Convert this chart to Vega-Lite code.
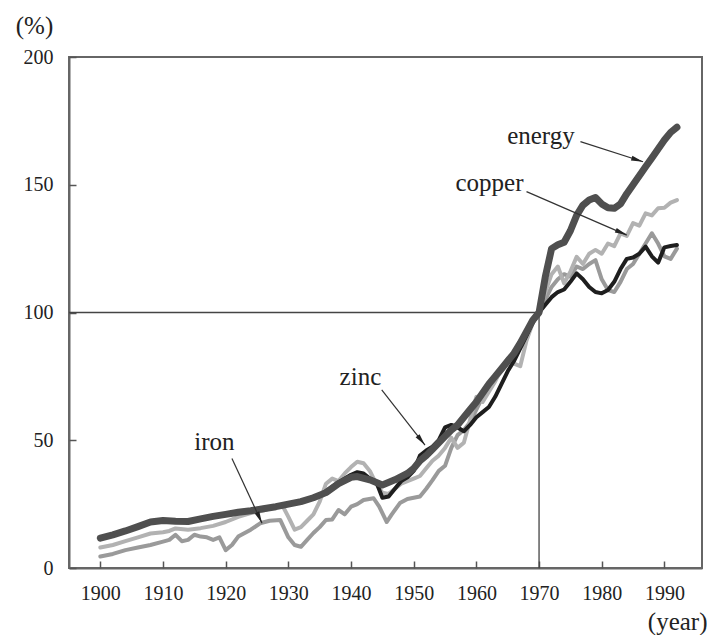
{
  "$schema": "https://vega.github.io/schema/vega-lite/v6.json",
  "width": 633,
  "height": 511,
  "autosize": {"type": "none"},
  "padding": {"left": 69, "top": 57, "right": 5, "bottom": 67},
  "background": "white",
  "config": {
    "view": {"stroke": "#666666", "strokeWidth": 2},
    "font": "Liberation Serif",
    "axis": {
      "grid": false,
      "domainColor": "#666666",
      "domainWidth": 2,
      "tickColor": "#555555",
      "tickWidth": 1.5,
      "tickSize": 7,
      "labelFont": "Liberation Serif",
      "labelFontSize": 20,
      "labelColor": "#222222",
      "titleFont": "Liberation Serif",
      "titleFontSize": 25,
      "titleFontWeight": "normal",
      "titleColor": "#222222"
    }
  },
  "resolve": {"axis": {"x": "independent", "y": "independent"}},
  "datasets": {
    "series": [
      {"s":"energy","year":1900,"value":11.7},{"s":"energy","year":1902,"value":13},{"s":"energy","year":1904,"value":14.5},{"s":"energy","year":1906,"value":16.2},{"s":"energy","year":1908,"value":18},{"s":"energy","year":1910,"value":18.6},{"s":"energy","year":1912,"value":18.3},{"s":"energy","year":1914,"value":18.2},{"s":"energy","year":1916,"value":19.2},{"s":"energy","year":1918,"value":20.2},{"s":"energy","year":1920,"value":21},{"s":"energy","year":1922,"value":21.8},{"s":"energy","year":1924,"value":22.4},{"s":"energy","year":1926,"value":23.2},{"s":"energy","year":1928,"value":24},{"s":"energy","year":1930,"value":25},{"s":"energy","year":1932,"value":26},{"s":"energy","year":1934,"value":27.5},{"s":"energy","year":1936,"value":29.5},{"s":"energy","year":1938,"value":33},{"s":"energy","year":1940,"value":35.5},{"s":"energy","year":1941,"value":35.8},{"s":"energy","year":1943,"value":34.5},{"s":"energy","year":1945,"value":32.5},{"s":"energy","year":1947,"value":34.5},{"s":"energy","year":1949,"value":37},{"s":"energy","year":1950,"value":39},{"s":"energy","year":1951,"value":42},{"s":"energy","year":1952,"value":44},{"s":"energy","year":1953,"value":46.5},{"s":"energy","year":1954,"value":49},{"s":"energy","year":1955,"value":51.5},{"s":"energy","year":1956,"value":54},{"s":"energy","year":1957,"value":56},{"s":"energy","year":1958,"value":59},{"s":"energy","year":1959,"value":62},{"s":"energy","year":1960,"value":65},{"s":"energy","year":1961,"value":68.5},{"s":"energy","year":1962,"value":72},{"s":"energy","year":1963,"value":75},{"s":"energy","year":1964,"value":78},{"s":"energy","year":1965,"value":81},{"s":"energy","year":1966,"value":84},{"s":"energy","year":1967,"value":88},{"s":"energy","year":1968,"value":92.5},{"s":"energy","year":1969,"value":97},{"s":"energy","year":1970,"value":100},{"s":"energy","year":1971,"value":114},{"s":"energy","year":1972,"value":125},{"s":"energy","year":1973,"value":126.5},{"s":"energy","year":1974,"value":127.5},{"s":"energy","year":1975,"value":132},{"s":"energy","year":1976,"value":138},{"s":"energy","year":1977,"value":142},{"s":"energy","year":1978,"value":144},{"s":"energy","year":1979,"value":145},{"s":"energy","year":1980,"value":142.5},{"s":"energy","year":1981,"value":141},{"s":"energy","year":1982,"value":140.8},{"s":"energy","year":1983,"value":142.5},{"s":"energy","year":1984,"value":146.5},{"s":"energy","year":1985,"value":150},{"s":"energy","year":1986,"value":153.5},{"s":"energy","year":1987,"value":157},{"s":"energy","year":1988,"value":160.5},{"s":"energy","year":1989,"value":164},{"s":"energy","year":1990,"value":167.5},{"s":"energy","year":1991,"value":170.5},{"s":"energy","year":1992,"value":172.5},

      {"s":"zinc","year":1900,"value":11.5},{"s":"zinc","year":1904,"value":14.3},{"s":"zinc","year":1908,"value":17.8},{"s":"zinc","year":1910,"value":18.4},{"s":"zinc","year":1914,"value":18},{"s":"zinc","year":1918,"value":20},{"s":"zinc","year":1922,"value":21.6},{"s":"zinc","year":1926,"value":23},{"s":"zinc","year":1930,"value":24.8},{"s":"zinc","year":1934,"value":27.3},{"s":"zinc","year":1936,"value":30},{"s":"zinc","year":1938,"value":33.5},{"s":"zinc","year":1940,"value":36.5},{"s":"zinc","year":1941,"value":37.5},{"s":"zinc","year":1942,"value":37},{"s":"zinc","year":1943,"value":35},{"s":"zinc","year":1944,"value":33.8},{"s":"zinc","year":1945,"value":27.5},{"s":"zinc","year":1946,"value":28},{"s":"zinc","year":1947,"value":31},{"s":"zinc","year":1948,"value":34},{"s":"zinc","year":1949,"value":35.5},{"s":"zinc","year":1950,"value":38},{"s":"zinc","year":1951,"value":44},{"s":"zinc","year":1952,"value":46},{"s":"zinc","year":1953,"value":47.5},{"s":"zinc","year":1954,"value":50},{"s":"zinc","year":1955,"value":55},{"s":"zinc","year":1956,"value":56},{"s":"zinc","year":1957,"value":55},{"s":"zinc","year":1958,"value":53.5},{"s":"zinc","year":1959,"value":56},{"s":"zinc","year":1960,"value":59},{"s":"zinc","year":1961,"value":61},{"s":"zinc","year":1962,"value":63},{"s":"zinc","year":1963,"value":67},{"s":"zinc","year":1964,"value":72},{"s":"zinc","year":1965,"value":77},{"s":"zinc","year":1966,"value":81},{"s":"zinc","year":1967,"value":86},{"s":"zinc","year":1968,"value":91},{"s":"zinc","year":1969,"value":96},{"s":"zinc","year":1970,"value":100},{"s":"zinc","year":1971,"value":103},{"s":"zinc","year":1972,"value":106},{"s":"zinc","year":1973,"value":108},{"s":"zinc","year":1974,"value":109},{"s":"zinc","year":1975,"value":112},{"s":"zinc","year":1976,"value":115.3},{"s":"zinc","year":1977,"value":113},{"s":"zinc","year":1978,"value":110},{"s":"zinc","year":1979,"value":108},{"s":"zinc","year":1980,"value":107.5},{"s":"zinc","year":1981,"value":108.8},{"s":"zinc","year":1982,"value":112},{"s":"zinc","year":1983,"value":117},{"s":"zinc","year":1984,"value":121},{"s":"zinc","year":1985,"value":121.5},{"s":"zinc","year":1986,"value":123},{"s":"zinc","year":1987,"value":125.8},{"s":"zinc","year":1988,"value":122},{"s":"zinc","year":1989,"value":119.5},{"s":"zinc","year":1990,"value":125.5},{"s":"zinc","year":1991,"value":126},{"s":"zinc","year":1992,"value":126.4},

      {"s":"copper","year":1900,"value":8},{"s":"copper","year":1902,"value":9},{"s":"copper","year":1904,"value":10.5},{"s":"copper","year":1906,"value":12},{"s":"copper","year":1908,"value":13.5},{"s":"copper","year":1910,"value":14},{"s":"copper","year":1911,"value":14.5},{"s":"copper","year":1912,"value":15.5},{"s":"copper","year":1914,"value":15},{"s":"copper","year":1916,"value":15.6},{"s":"copper","year":1918,"value":16.5},{"s":"copper","year":1920,"value":18},{"s":"copper","year":1922,"value":20},{"s":"copper","year":1924,"value":21.5},{"s":"copper","year":1926,"value":22.5},{"s":"copper","year":1928,"value":24},{"s":"copper","year":1929,"value":24.7},{"s":"copper","year":1930,"value":20},{"s":"copper","year":1931,"value":15},{"s":"copper","year":1932,"value":16},{"s":"copper","year":1933,"value":18.5},{"s":"copper","year":1934,"value":21},{"s":"copper","year":1935,"value":26},{"s":"copper","year":1936,"value":33},{"s":"copper","year":1937,"value":35},{"s":"copper","year":1938,"value":34},{"s":"copper","year":1939,"value":37},{"s":"copper","year":1940,"value":39.5},{"s":"copper","year":1941,"value":41.6},{"s":"copper","year":1942,"value":41},{"s":"copper","year":1943,"value":38},{"s":"copper","year":1944,"value":33},{"s":"copper","year":1945,"value":29.5},{"s":"copper","year":1946,"value":29},{"s":"copper","year":1947,"value":31},{"s":"copper","year":1948,"value":33},{"s":"copper","year":1949,"value":34},{"s":"copper","year":1950,"value":35},{"s":"copper","year":1951,"value":36},{"s":"copper","year":1952,"value":39},{"s":"copper","year":1953,"value":42},{"s":"copper","year":1954,"value":44},{"s":"copper","year":1955,"value":47},{"s":"copper","year":1956,"value":51},{"s":"copper","year":1957,"value":47},{"s":"copper","year":1958,"value":49},{"s":"copper","year":1959,"value":58},{"s":"copper","year":1960,"value":67},{"s":"copper","year":1961,"value":65},{"s":"copper","year":1962,"value":69},{"s":"copper","year":1963,"value":73},{"s":"copper","year":1964,"value":78},{"s":"copper","year":1965,"value":82},{"s":"copper","year":1966,"value":80},{"s":"copper","year":1967,"value":79},{"s":"copper","year":1968,"value":89},{"s":"copper","year":1969,"value":96},{"s":"copper","year":1970,"value":100},{"s":"copper","year":1971,"value":108},{"s":"copper","year":1972,"value":115},{"s":"copper","year":1973,"value":118},{"s":"copper","year":1974,"value":111.4},{"s":"copper","year":1975,"value":116},{"s":"copper","year":1976,"value":121.8},{"s":"copper","year":1977,"value":119},{"s":"copper","year":1978,"value":123},{"s":"copper","year":1979,"value":124.5},{"s":"copper","year":1980,"value":123},{"s":"copper","year":1981,"value":127},{"s":"copper","year":1982,"value":126},{"s":"copper","year":1983,"value":131},{"s":"copper","year":1984,"value":130},{"s":"copper","year":1985,"value":135},{"s":"copper","year":1986,"value":134},{"s":"copper","year":1987,"value":138.8},{"s":"copper","year":1988,"value":138},{"s":"copper","year":1989,"value":140.8},{"s":"copper","year":1990,"value":141},{"s":"copper","year":1991,"value":143},{"s":"copper","year":1992,"value":144},

      {"s":"iron","year":1900,"value":4.5},{"s":"iron","year":1902,"value":5.5},{"s":"iron","year":1904,"value":7},{"s":"iron","year":1906,"value":8},{"s":"iron","year":1908,"value":9},{"s":"iron","year":1910,"value":10.3},{"s":"iron","year":1911,"value":11},{"s":"iron","year":1912,"value":13},{"s":"iron","year":1913,"value":10.5},{"s":"iron","year":1914,"value":11},{"s":"iron","year":1915,"value":13},{"s":"iron","year":1916,"value":12.3},{"s":"iron","year":1917,"value":12},{"s":"iron","year":1918,"value":11},{"s":"iron","year":1919,"value":12},{"s":"iron","year":1920,"value":7},{"s":"iron","year":1921,"value":9},{"s":"iron","year":1922,"value":12.3},{"s":"iron","year":1924,"value":15},{"s":"iron","year":1925.5,"value":17.5},{"s":"iron","year":1927,"value":18.5},{"s":"iron","year":1928.7,"value":18.8},{"s":"iron","year":1930,"value":12},{"s":"iron","year":1931,"value":9},{"s":"iron","year":1932,"value":8.3},{"s":"iron","year":1933,"value":11},{"s":"iron","year":1934,"value":13.7},{"s":"iron","year":1935,"value":16},{"s":"iron","year":1936,"value":18.8},{"s":"iron","year":1937,"value":19},{"s":"iron","year":1938,"value":22.7},{"s":"iron","year":1939,"value":21},{"s":"iron","year":1940,"value":24},{"s":"iron","year":1941,"value":25},{"s":"iron","year":1942,"value":26.6},{"s":"iron","year":1943.6,"value":27.3},{"s":"iron","year":1944.5,"value":24},{"s":"iron","year":1945.7,"value":18},{"s":"iron","year":1946.5,"value":21},{"s":"iron","year":1947.8,"value":25.4},{"s":"iron","year":1949,"value":27},{"s":"iron","year":1951,"value":28},{"s":"iron","year":1952,"value":31},{"s":"iron","year":1953,"value":34.4},{"s":"iron","year":1954,"value":38},{"s":"iron","year":1955,"value":40},{"s":"iron","year":1956,"value":47},{"s":"iron","year":1957,"value":52},{"s":"iron","year":1958,"value":54},{"s":"iron","year":1959,"value":57},{"s":"iron","year":1960,"value":62},{"s":"iron","year":1961,"value":67},{"s":"iron","year":1962,"value":71},{"s":"iron","year":1963,"value":74},{"s":"iron","year":1964,"value":77},{"s":"iron","year":1965,"value":80},{"s":"iron","year":1966,"value":83},{"s":"iron","year":1967,"value":87},{"s":"iron","year":1968,"value":92},{"s":"iron","year":1969,"value":97},{"s":"iron","year":1970,"value":100},{"s":"iron","year":1971,"value":105},{"s":"iron","year":1972,"value":110},{"s":"iron","year":1973,"value":113},{"s":"iron","year":1974,"value":115},{"s":"iron","year":1975,"value":114},{"s":"iron","year":1976,"value":118},{"s":"iron","year":1977,"value":117},{"s":"iron","year":1978,"value":119},{"s":"iron","year":1979,"value":120.5},{"s":"iron","year":1980,"value":113},{"s":"iron","year":1981,"value":108.8},{"s":"iron","year":1982,"value":108},{"s":"iron","year":1983,"value":112},{"s":"iron","year":1984,"value":117},{"s":"iron","year":1985,"value":119},{"s":"iron","year":1986,"value":123},{"s":"iron","year":1987,"value":127},{"s":"iron","year":1988,"value":131},{"s":"iron","year":1989,"value":127},{"s":"iron","year":1990,"value":122},{"s":"iron","year":1991,"value":121},{"s":"iron","year":1992,"value":125}
    ],
    "guides": [
      {"year": 1895, "year2": 1970, "value": 100, "value2": 100},
      {"year": 1970, "year2": 1970, "value": 0, "value2": 100}
    ],
    "notes": [
      {"label": "energy", "ly": 1970.3, "lv": 165.8, "sy": 1976.6, "sv": 166.9, "ty": 1986.6, "tv": 159},
      {"label": "copper", "ly": 1962.1, "lv": 147.6, "sy": 1968, "sv": 147.3, "ty": 1984, "tv": 130.3},
      {"label": "zinc", "ly": 1941.5, "lv": 71.6, "sy": 1944.9, "sv": 69.7, "ty": 1951.8, "tv": 48.1},
      {"label": "iron", "ly": 1918.2, "lv": 46.2, "sy": 1921, "sv": 42.9, "ty": 1925.8, "tv": 17.5}
    ]
  },
  "layer": [
    {
      "data": {"name": "guides"},
      "mark": {"type": "rule", "color": "#444444", "strokeWidth": 1.3},
      "encoding": {
        "x": {"field": "year", "type": "quantitative", "scale": {"domain": [1895, 1996], "nice": false, "zero": false},
              "axis": {"orient": "bottom", "values": [1900,1910,1920,1930,1940,1950,1960,1970,1980,1990], "format": "d", "ticks": false, "labelPadding": 15, "title": "(year)", "titleX": 638, "titleY": 53, "titleAlign": "right", "titleBaseline": "middle"}},
        "x2": {"field": "year2"},
        "y": {"field": "value", "type": "quantitative", "scale": {"domain": [0, 200], "nice": false, "zero": true},
              "axis": {"orient": "left", "values": [0,50,100,150,200], "ticks": false, "labelPadding": 16, "title": "(%)", "titleAngle": 0, "titleX": -35, "titleY": -32, "titleAlign": "center", "titleBaseline": "middle"}},
        "y2": {"field": "value2"}
      }
    },
    {
      "data": {"name": "series"},
      "transform": [{"filter": "datum.s === 'iron'"}],
      "mark": {"type": "line", "color": "#9a9a9a", "strokeWidth": 4, "strokeJoin": "round", "strokeCap": "round"},
      "encoding": {
        "x": {"field": "year", "type": "quantitative",
              "axis": {"orient": "top", "offset": -511, "values": [1900,1910,1920,1930,1940,1950,1960,1970,1980,1990], "labels": false, "domain": false, "title": null}},
        "y": {"field": "value", "type": "quantitative",
              "axis": {"orient": "right", "offset": -633, "values": [0,50,100,150,200], "labels": false, "domain": false, "title": null}}
      }
    },
    {
      "data": {"name": "series"},
      "transform": [{"filter": "datum.s === 'copper'"}],
      "mark": {"type": "line", "color": "#b2b2b2", "strokeWidth": 4, "strokeJoin": "round", "strokeCap": "round"},
      "encoding": {
        "x": {"field": "year", "type": "quantitative", "axis": null},
        "y": {"field": "value", "type": "quantitative", "axis": null}
      }
    },
    {
      "data": {"name": "series"},
      "transform": [{"filter": "datum.s === 'zinc'"}],
      "mark": {"type": "line", "color": "#1e1e1e", "strokeWidth": 4, "strokeJoin": "round", "strokeCap": "round"},
      "encoding": {
        "x": {"field": "year", "type": "quantitative", "axis": null},
        "y": {"field": "value", "type": "quantitative", "axis": null}
      }
    },
    {
      "data": {"name": "series"},
      "transform": [{"filter": "datum.s === 'energy'"}],
      "mark": {"type": "line", "color": "#4f4f4f", "strokeWidth": 7, "strokeJoin": "round", "strokeCap": "round"},
      "encoding": {
        "x": {"field": "year", "type": "quantitative", "axis": null},
        "y": {"field": "value", "type": "quantitative", "axis": null}
      }
    },
    {
      "data": {"name": "notes"},
      "mark": {"type": "rule", "color": "#333333", "strokeWidth": 1.2},
      "encoding": {
        "x": {"field": "sy", "type": "quantitative", "axis": null},
        "x2": {"field": "ty"},
        "y": {"field": "sv", "type": "quantitative", "axis": null},
        "y2": {"field": "tv"}
      }
    },
    {
      "data": {"name": "notes"},
      "mark": {"type": "point", "shape": "M0,0L0.5,2.4L-0.5,2.4Z", "filled": true, "color": "#222222", "opacity": 1, "size": 100},
      "encoding": {
        "x": {"field": "ty", "type": "quantitative", "axis": null},
        "y": {"field": "tv", "type": "quantitative", "axis": null},
        "angle": {
          "condition": [
            {"test": "datum.label === 'energy'", "value": 107.5},
            {"test": "datum.label === 'copper'", "value": 113.4},
            {"test": "datum.label === 'zinc'", "value": 141.8}
          ],
          "value": 155.2
        }
      }
    },
    {
      "data": {"name": "notes"},
      "mark": {"type": "text", "font": "Liberation Serif", "fontSize": 25, "color": "#222222", "align": "center", "baseline": "alphabetic"},
      "encoding": {
        "x": {"field": "ly", "type": "quantitative", "axis": null},
        "y": {"field": "lv", "type": "quantitative", "axis": null},
        "text": {"field": "label"}
      }
    }
  ]
}
